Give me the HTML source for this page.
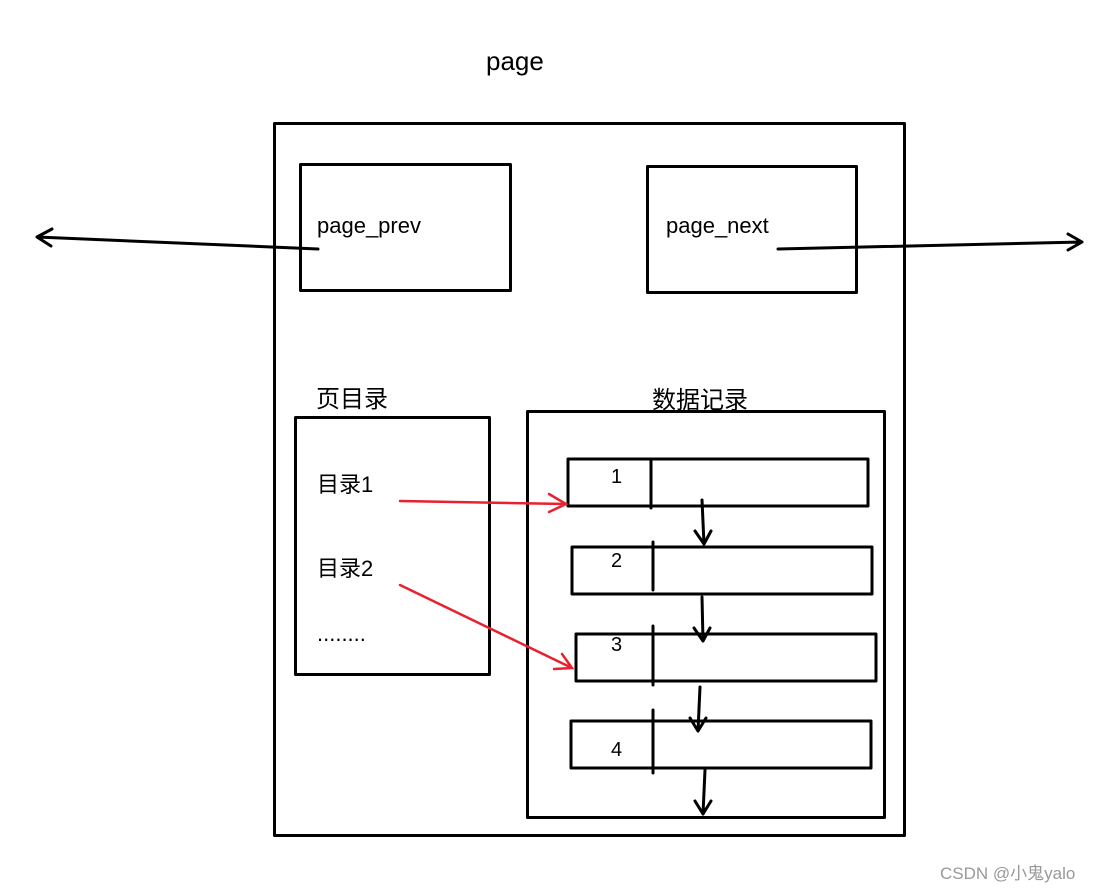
<!DOCTYPE html>
<html><head><meta charset="utf-8"><style>
body{margin:0;background:#fff;}
svg text{font-family:"Liberation Sans","Noto Sans CJK SC",sans-serif;}
</style></head><body>
<svg width="1096" height="891" viewBox="0 0 1096 891" xmlns="http://www.w3.org/2000/svg">
<g fill="none" stroke="#000" stroke-width="3" stroke-linecap="round" stroke-linejoin="round">
<rect x="274.5" y="123.5" width="630" height="712"/>
<rect x="300.5" y="164.5" width="210" height="126"/>
<rect x="647.5" y="166.5" width="209" height="126"/>
<rect x="295.5" y="417.5" width="194" height="257"/>
<rect x="527.5" y="411.5" width="357" height="406"/>
<rect x="568" y="459" width="300" height="47"/><line x1="651" y1="459" x2="651" y2="508"/>
<rect x="572" y="547" width="300" height="47"/><line x1="653" y1="542" x2="653" y2="590"/>
<rect x="576" y="634" width="300" height="47"/><line x1="653" y1="626" x2="653" y2="685"/>
<rect x="571" y="721" width="300" height="47"/><line x1="653" y1="710" x2="653" y2="773"/>
<path d="M702 500 L704 544 M695 531 L704 544 L711 531"/>
<path d="M702 597 L703 641 M694 628 L703 641 L710 628"/>
<path d="M700 687 L698 731 M690 718 L698 731 M706 718 L698 731"/>
<path d="M705 770 L703 814 M695 801 L703 814 L711 801"/>
<path d="M318 249 L37 237 M52 229 L37 237 L51 246"/>
<path d="M778 249 L1082 242 M1068 234 L1082 242 L1068 250"/>
</g>
<g fill="none" stroke="#e8202f" stroke-width="2.5" stroke-linecap="round">
<path d="M400 501 L566 504 M549 494 L566 504 L549 512"/>
<path d="M400 585 L572 668 M562 654 L572 668 L554 669"/>
</g>
<g font-size="22" fill="#000">
<text x="486" y="70" font-size="26">page</text>
<text x="317" y="233">page_prev</text>
<text x="666" y="233">page_next</text>
<text x="316" y="407" font-size="24">页目录</text>
<text x="652" y="408" font-size="24">数据记录</text>
<text x="317" y="492">目录1</text>
<text x="317" y="576">目录2</text>
<text x="317" y="641">........</text>
<text x="611" y="483" font-size="20">1</text>
<text x="611" y="567" font-size="20">2</text>
<text x="611" y="651" font-size="20">3</text>
<text x="611" y="756" font-size="20">4</text>
<text x="940" y="879" font-size="17" fill="#999">CSDN @小鬼yalo</text>
</g>
</svg>
</body></html>
